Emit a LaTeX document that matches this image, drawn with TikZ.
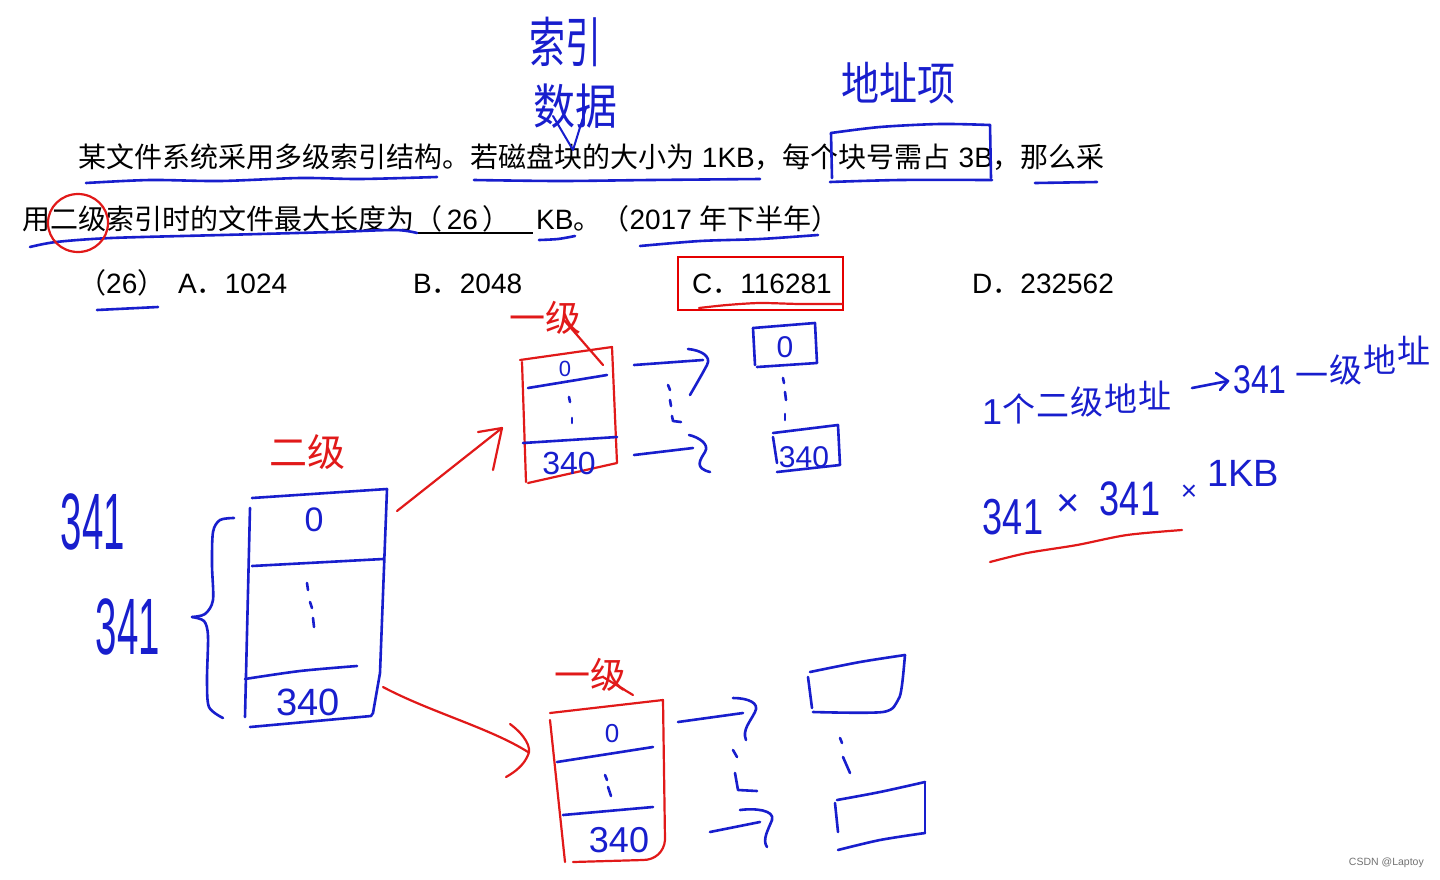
\documentclass[tikz,border=0pt]{standalone}
\usepackage{fontspec}
\usepackage{graphicx}
\setmainfont{Liberation Sans}
\newfontfamily\cjk{Noto Sans CJK SC}
\definecolor{inkblue}{RGB}{24,30,205}
\definecolor{inkred}{RGB}{225,25,25}
\newcommand\fsz[1]{\fontsize{#1}{#1}\selectfont}
\begin{document}
\begin{tikzpicture}[x=1pt,y=-1pt,
 pen/.style={draw=inkblue,line width=2.6pt,line cap=round,line join=round},
 rpen/.style={draw=inkred,line width=2.2pt,line cap=round,line join=round},
 typed/.style={inner sep=0pt,anchor=base west,font=\fsz{28}},
 hb/.style={inner sep=0pt,text=inkblue},
 hr/.style={inner sep=0pt,text=inkred}]
\fill[white] (0,0) rectangle (1440,879);
\useasboundingbox (0,0) rectangle (1440,879);

% ---------- typed question ----------
\node[typed] (q1) at (78,167) {{\cjk 某文件系统采用多级索引结构。若磁盘块的大小为} 1KB{\cjk ，每个块号需占} 3B{\cjk ，那么采}};
\node[typed] (q2a) at (22,229) {\cjk 用二级索引时的文件最大长度为};
\node[typed] (q2b) at (414,229) {{\cjk （}\,26\,{\cjk ）}};
\node[typed] (q2c) at (536,229) {KB{\cjk 。（}2017 {\cjk 年下半年）}};
\draw[line width=1.8pt] (417,233) -- (533,233);
\node[typed] (o0) at (78,293) {{\cjk （}26{\cjk ）}};
\node[typed] (oA) at (178,293) {A{\cjk ．}1024};
\node[typed] (oB) at (413,293) {B{\cjk ．}2048};
\node[typed] (oC) at (692,293) {C{\cjk ．}116281};
\node[typed] (oD) at (972,293) {D{\cjk ．}232562};
\draw[draw=red!90!black,line width=1.8pt] (678,257) rectangle (843,310);

% ---------- annotations on the question ----------
\draw[pen] plot[smooth] coordinates {(86,183) (150,180) (220,181) (300,178) (360,179) (437,177)};
\draw[pen] plot[smooth] coordinates {(474,180) (560,181) (650,180) (760,179)};
\draw[pen] plot[smooth] coordinates {(830,182) (900,180) (992,180)};
\draw[pen] (1035,183) -- (1097,182);
\draw[pen] plot[smooth] coordinates {(831,133) (880,127) (940,124) (990,125)};
\draw[pen] (831,133) -- (832,178);
\draw[pen] (990,125) -- (991,178);
\draw[pen] plot[smooth] coordinates {(30,247) (56,242) (111,238) (222,235) (333,232) (395,230) (417,233)};
\draw[pen] plot[smooth] coordinates {(539,240) (558,239) (575,236)};
\draw[pen] plot[smooth] coordinates {(640,246) (700,241) (760,239) (818,235)};
\draw[pen] (97,310) -- (158,307);
\draw[rpen] plot[smooth] coordinates {(699,308) (727,305) (760,303) (800,304) (842,304)};
\draw[rpen] (78,223) ellipse [x radius=30, y radius=29];

\node[hb,font=\cjk\fsz{36}] (suoyin) at (565,42) {\scalebox{1}[1.5]{索引}};
\node[hb,font=\cjk\fsz{42}] (shuju) at (575,106) {\scalebox{1}[1.15]{数据}};
\draw[pen,line width=2pt] (553,116) -- (573,150) -- (586,108);
\node[hb,font=\cjk\fsz{38}] (dzx) at (898,83) {\scalebox{1}[1.2]{地址项}};

% ---------- second-level index block ----------
\node[hr,font=\cjk\fsz{38}] (erji) at (307,452) {二级};
\draw[pen] (252,498) -- (387,489) -- (380,673) -- (373,713) -- (371,716) -- (250,727);
\draw[pen] (250,508) -- (245,717);
\draw[pen] (252,566) -- (383,559);
\draw[pen] plot[smooth] coordinates {(245,679) (300,671) (357,666)};
\node[hb,font=\fsz{34}] (z0) at (314,520) {0};
\draw[pen] (307,583) -- (308,590);
\draw[pen] (310,602) -- (312,608);
\draw[pen] (313,618) -- (314,627);
\node[hb,font=\fsz{38}] (z340) at (308,702) {340};
\draw[pen] plot[smooth] coordinates {(234,518) (220,520) (213,532) (212,565) (213,600) (205,614) (192,617)};
\draw[pen] plot[smooth] coordinates {(192,617) (204,621) (208,636) (207,680) (209,707) (223,718)};
\node[hb,font=\fsz{64}] (n341a) at (93,522) {\scalebox{0.6}[1.25]{341}};
\node[hb,font=\fsz{64}] (n341b) at (128,627) {\scalebox{0.6}[1.25]{341}};

% ---------- red pointers ----------
\coordinate (r1s) at (397,511);
\coordinate (r1e) at (502,428);
\draw[rpen] (r1s) -- (r1e);
\draw[rpen] (478,432) -- (r1e) -- (493,470);
\coordinate (r2s) at (383,687);
\coordinate (r2e) at (528,752);
\draw[rpen] (r2s) .. controls (430,712) and (490,728) .. (r2e);
\draw[rpen] (510,724) .. controls (525,735) and (532,748) .. (528,755) .. controls (524,765) and (515,772) .. (506,777);

% ---------- upper first-level block ----------
\node[hr,font=\cjk\fsz{36}] (yj1) at (545,318) {一级};
\draw[rpen] (564,320) -- (603,365);
\draw[rpen] (520,360) -- (612,347) -- (617,463) -- (528,483);
\draw[rpen] (522,362) -- (526,482);
\draw[pen] (528,388) -- (607,375);
\draw[pen] (523,443) -- (617,437);
\node[hb,font=\fsz{22}] (a0) at (565,369) {0};
\draw[pen] (569,397) -- (570,402);
\draw[pen] (572,418) -- (572,423);
\node[hb,font=\fsz{32}] (a340) at (569,463) {340};

\coordinate (b1s) at (634,365);
\coordinate (b1e) at (703,360);
\draw[pen] (b1s) -- (b1e);
\draw[pen] (688,349) .. controls (700,350) and (712,356) .. (707,365) .. controls (700,378) and (694,388) .. (690,395);
\coordinate (b2s) at (634,455);
\coordinate (b2e) at (693,448);
\draw[pen] (b2s) -- (b2e);
\draw[pen] (689,435) .. controls (698,437) and (710,444) .. (705,452) .. controls (700,460) and (694,468) .. (710,472);
\draw[pen] (668,385) -- (670,390);
\draw[pen] (670,400) -- (671,406);
\draw[pen] (672,416) -- (673,421) -- (681,422);

\draw[pen] (753,328) -- (815,323) -- (817,363) -- (757,367);
\draw[pen] (753,328) -- (755,365);
\node[hb,font=\fsz{30}] (d0) at (785,347) {0};
\draw[pen] (783,378) -- (784,383);
\draw[pen] (785,392) -- (786,400);
\draw[pen] (785,414) -- (785,420);
\draw[pen] (773,433) -- (838,425) -- (840,465) -- (777,472);
\draw[pen] (773,437) -- (777,463);
\node[hb,font=\fsz{30}] (d340) at (804,457) {340};

% ---------- lower first-level block ----------
\node[hr,font=\cjk\fsz{36}] (yj2) at (590,675) {一级};
\draw[rpen] (603,677) -- (633,695);
\draw[rpen] (550,713) -- (663,700) -- (665,840) .. controls (664,852) and (655,860) .. (643,860) -- (573,862);
\draw[rpen] (550,720) -- (565,862);
\draw[pen] (557,762) -- (653,747);
\draw[pen] (563,815) -- (653,807);
\node[hb,font=\fsz{26}] (b0) at (612,734) {0};
\draw[pen] (605,775) -- (607,780);
\draw[pen] (608,787) -- (611,796);
\node[hb,font=\fsz{36}] (b340) at (619,840) {340};

\coordinate (c1s) at (678,722);
\coordinate (c1e) at (743,713);
\draw[pen] (c1s) -- (c1e);
\draw[pen] (733,698) .. controls (748,698) and (760,703) .. (755,712) .. controls (750,722) and (742,730) .. (746,740);
\draw[pen] (733,750) -- (737,757);
\draw[pen] (735,773) -- (738,790) -- (757,791);
\coordinate (c2s) at (710,832);
\coordinate (c2e) at (760,822);
\draw[pen] (c2s) -- (c2e);
\draw[pen] (740,810) .. controls (755,808) and (775,810) .. (772,820) .. controls (768,830) and (762,840) .. (767,847);

\draw[pen] plot[smooth] coordinates {(810,672) (860,662) (905,655)};
\draw[pen] plot[smooth] coordinates {(905,655) (902,685) (898,700) (883,712) (813,712)};
\draw[pen] (808,677) -- (812,708);
\draw[pen] (840,738) -- (842,743);
\draw[pen] (843,757) -- (850,773);
\draw[pen] plot[smooth] coordinates {(837,800) (880,792) (925,782)};
\draw[pen] (925,782) -- (925,833);
\draw[pen] plot[smooth] coordinates {(925,833) (880,840) (838,850)};
\draw[pen] (835,803) -- (838,832);

% ---------- right-hand notes (written rising to the right) ----------
\node[hb,font=\fsz{36}] (m1) at (992,412) {1};
\foreach \ch [count=\i] in {个,二,级,地,址}
  \node[hb,font=\cjk\fsz{33}] (m\i c) at ({985+34*\i},{413-3.6*\i}) {\ch};
\coordinate (na) at (1192,388);
\coordinate (nb) at (1228,381);
\draw[pen] (na) -- (nb);
\draw[pen] (1216,373) -- (nb) -- (1220,390);
\node[hb,font=\fsz{40}] (note341) at (1260,380) {\scalebox{0.8}[1]{341}};
\foreach \ch [count=\i] in {一,级,地,址}
  \node[hb,font=\cjk\fsz{33}] (p\i) at ({1278+34*\i},{390-10*\i}) {\ch};
\node[hb,font=\fsz{44}] (k1) at (1013,517) {\scalebox{0.82}[1.15]{341}};
\node[hb,font=\fsz{40}] (k2) at (1068,505) {×};
\node[hb,font=\fsz{44}] (k3) at (1130,499) {\scalebox{0.82}[1.1]{341}};
\node[hb,font=\fsz{28}] (k4) at (1189,493) {×};
\node[hb,font=\fsz{38}] (k5) at (1243,473) {1KB};
\draw[rpen] plot[smooth] coordinates {(990,562) (1027,553) (1077,545) (1127,535) (1182,530)};

\node[inner sep=0pt,anchor=east,font=\fsz{10.5},text=black!55] (wm) at (1424,863) {CSDN @Laptoy};
\end{tikzpicture}
\end{document}
